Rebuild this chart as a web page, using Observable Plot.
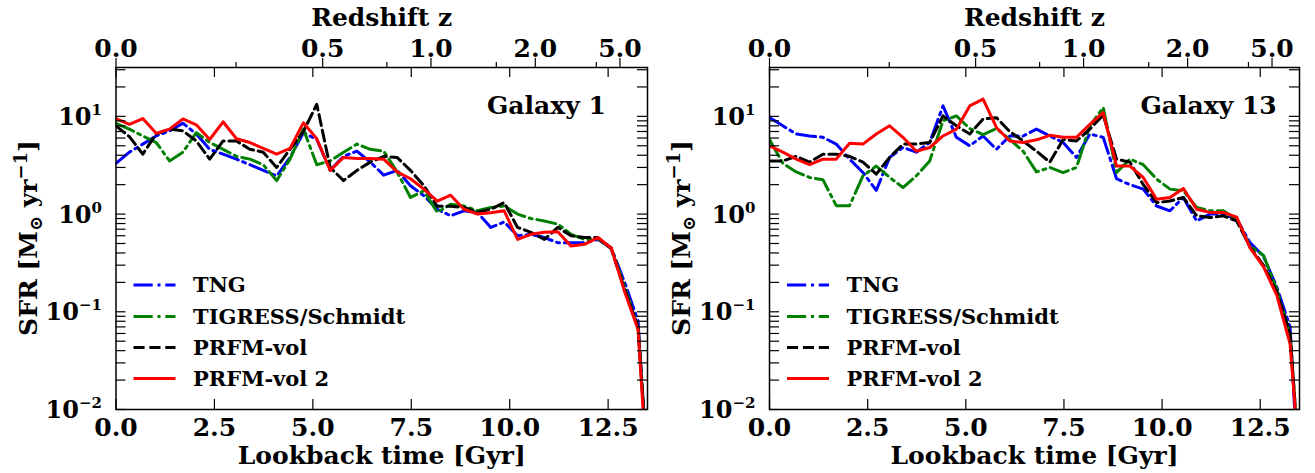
<!DOCTYPE html>
<html><head><meta charset="utf-8">
<script src="https://cdn.jsdelivr.net/npm/d3@7"></script>
<script src="https://cdn.jsdelivr.net/npm/@observablehq/plot@0.6"></script>
<style>
html,body{margin:0;padding:0;background:#fff;}
#wrap{display:flex;width:1315px;height:473px;overflow:hidden;}
</style></head><body><div id="wrap"></div>
<script>
// Lookback time of snapshots [Gyr]
const times = [0, 0.34, 0.68, 1.02, 1.36, 1.70, 2.04, 2.38, 2.72, 3.06, 3.40, 3.74, 4.08, 4.42, 4.76, 5.10, 5.44, 5.78, 6.12, 6.46, 6.80, 7.14, 7.48, 7.82, 8.16, 8.50, 8.84, 9.18, 9.52, 9.86, 10.20, 10.54, 10.88, 11.22, 11.56, 11.90, 12.24, 12.58, 12.92, 13.26, 13.45];

// Galaxy 1 SFR [Msun/yr]
const g1_tng = [3.3, 4.3, 5.2, 6.3, 7.1, 8.5, 6.6, 4.6, 4.1, 3.65, 3.2, 2.8, 2.45, 3.8, 6.8, 5.8, 2.8, 3.9, 4.4, 3.4, 2.5, 2.8, 1.95, 1.54, 1.12, 0.96, 1.08, 1.04, 0.73, 0.83, 0.6, 0.62, 0.575, 0.51, 0.51, 0.51, 0.55, 0.45, 0.2, 0.08, 0.005];
const g1_tigress = [8.5, 7.4, 6.3, 5.4, 3.5, 4.3, 6.8, 5.4, 4.6, 3.9, 3.65, 3.2, 2.2, 3.65, 7.4, 3.2, 3.5, 4.3, 5.2, 4.6, 4.4, 2.7, 1.48, 1.73, 1.04, 1.26, 1.21, 1.08, 1.17, 1.21, 1.0, 0.9, 0.85, 0.79, 0.62, 0.55, 0.56, 0.45, 0.18, 0.07, 0.005];
const g1_prfm = [8.0, 6.2, 4.1, 6.6, 7.4, 7.1, 5.6, 3.65, 5.6, 5.6, 4.6, 4.3, 3.0, 4.6, 7.0, 13.3, 3.0, 2.2, 2.8, 3.4, 3.9, 3.8, 2.8, 1.95, 1.2, 1.2, 1.17, 1.04, 1.12, 1.31, 0.73, 0.65, 0.55, 0.73, 0.6, 0.575, 0.575, 0.44, 0.17, 0.07, 0.005];
const g1_prfm2 = [9.5, 8.3, 9.5, 6.7, 7.4, 9.4, 8.2, 5.8, 8.8, 5.9, 5.4, 4.7, 4.1, 4.7, 8.6, 5.9, 2.8, 3.8, 3.7, 3.7, 3.65, 2.7, 2.3, 1.8, 1.36, 1.56, 1.12, 1.0, 1.03, 1.08, 0.55, 0.62, 0.65, 0.66, 0.47, 0.49, 0.575, 0.45, 0.16, 0.066, 0.004];

// Galaxy 13 SFR [Msun/yr]
const g13_tng = [9.7, 8.0, 6.6, 6.3, 6.1, 5.2, 3.65, 2.66, 1.75, 3.8, 4.8, 4.3, 5.4, 12.8, 6.1, 5.0, 6.3, 4.6, 6.3, 6.3, 7.4, 6.3, 5.4, 3.8, 6.6, 6.1, 2.3, 2.0, 1.8, 1.21, 1.08, 1.48, 0.85, 1.0, 1.0, 0.89, 0.51, 0.37, 0.18, 0.07, 0.003];
const g13_tigress = [5.8, 3.3, 2.7, 2.37, 2.25, 1.22, 1.22, 2.46, 3.1, 2.37, 1.87, 2.46, 3.5, 9.0, 10.1, 7.5, 6.5, 7.5, 5.8, 4.4, 2.7, 3.0, 2.66, 3.0, 8.0, 12.3, 2.66, 3.65, 3.2, 2.28, 1.8, 1.73, 1.17, 1.08, 1.08, 0.89, 0.47, 0.38, 0.17, 0.06, 0.005];
const g13_prfm = [3.5, 3.5, 3.9, 3.4, 4.1, 4.1, 3.9, 3.4, 2.56, 3.8, 5.2, 5.2, 5.4, 10.1, 8.0, 6.6, 9.4, 9.7, 7.0, 5.6, 4.4, 3.4, 5.8, 5.6, 7.4, 10.3, 3.65, 3.4, 2.0, 1.31, 1.36, 1.48, 0.96, 0.92, 0.96, 0.85, 0.46, 0.3, 0.16, 0.06, 0.005];
const g13_prfm2 = [5.0, 4.3, 3.65, 3.2, 3.65, 3.65, 5.3, 5.2, 6.6, 8.0, 6.1, 4.4, 4.8, 6.3, 7.4, 12.8, 15.0, 7.7, 5.6, 5.4, 5.75, 6.4, 6.1, 6.1, 8.3, 10.9, 3.1, 3.1, 2.37, 1.42, 1.48, 1.83, 1.12, 1.04, 1.04, 0.93, 0.45, 0.29, 0.148, 0.047, 0.005];

const seriesNames = ["TNG", "TIGRESS/Schmidt", "PRFM-vol", "PRFM-vol 2"];
const seriesColors = ["#0000ff", "#008000", "#000000", "#ff0000"];
const seriesDash = ["19.2,4.8,3,4.8", "19.2,4.8,3,4.8", "11.1,4.8", "none"];

const xTicks = [0, 2.5, 5, 7.5, 10, 12.5];
const xTickLabels = ["0.0", "2.5", "5.0", "7.5", "10.0", "12.5"];
const zTickLabels = ["0.0", "0.5", "1.0", "2.0", "5.0"];
const zTickLookback = [0, 5.25, 8.0, 10.65, 12.8];
const zMinorLookback = [3.05, 6.88, 9.66, 12.2];
const yMajor = [0.01, 0.1, 1, 10];
const yTickExponents = ["\u22122", "\u22121", "0", "1"];

const FONT = "'DejaVu Serif', serif";
const YTOP = Math.pow(10, 1.5);
const yMinor = [];
for (const d of yMajor) for (let m = 2; m <= 9; m++) { const v = d * m; if (v <= YTOP) yMinor.push(v); }
const yAll = yMajor.concat(yMinor);

function panel(name, series, width, ml, mr) {
  const H = 473, mt = 67, mb = 64;
  const pw = width - ml - mr, ph = H - mt - mb;
  const lines = series.map((vals, si) => Plot.line(
    times.map((t, i) => ({t, v: vals[i]})),
    {x: "t", y: "v", stroke: seriesColors[si], strokeWidth: 3,
     strokeDasharray: seriesDash[si], strokeLinejoin: "round", clip: true}));
  const xt = xTicks.map((x, i) => ({x, label: xTickLabels[i]}));
  const zt = zTickLookback.map((x, i) => ({x, label: zTickLabels[i]}));
  const yt = yMajor.map((y, i) => ({y, label: "10" + "^" + yTickExponents[i]}));
  const svg = Plot.plot({
    width, height: H, marginTop: mt, marginBottom: mb, marginLeft: ml, marginRight: mr,
    style: {fontFamily: FONT, fontWeight: "bold", fontSize: "25px", background: "white", color: "black"},
    x: {domain: [0, 13.5], axis: null},
    y: {type: "log", domain: [0.01, YTOP], axis: null},
    marks: [
      ...lines,
      Plot.tickY(yAll, {y: d => d, insetRight: pw - 10, strokeWidth: 1.2}),
      Plot.tickY(yAll, {y: d => d, insetLeft: pw - 10, strokeWidth: 1.2}),
      Plot.tickX(xTicks, {x: d => d, insetTop: ph - 10, strokeWidth: 1.2}),
      Plot.tickX(xTicks, {x: d => d, insetBottom: ph - 10, strokeWidth: 1.2}),
      Plot.tickX(zTickLookback, {x: d => d, insetTop: -9, insetBottom: ph, strokeWidth: 1.2}),
      Plot.tickX(zMinorLookback, {x: d => d, insetTop: -5, insetBottom: ph, strokeWidth: 1.2}),
      Plot.frame({stroke: "black", strokeWidth: 1.5}),
      Plot.text(xt, {x: "x", text: "label", frameAnchor: "bottom", lineAnchor: "bottom", dy: 26, fontSize: 25, fontWeight: "bold"}),
      Plot.text(zt, {x: "x", text: "label", frameAnchor: "top", lineAnchor: "bottom", dy: -11, fontSize: 25, fontWeight: "bold"}),
      Plot.text(["Redshift z"], {text: d => d, frameAnchor: "top", lineAnchor: "bottom", dy: -42, fontSize: 25, fontWeight: "bold"}),
      Plot.text(["Lookback time [Gyr]"], {text: d => d, frameAnchor: "bottom", lineAnchor: "bottom", dy: 54, fontSize: 25, fontWeight: "bold"}),
      Plot.text([name], {text: d => d, frameAnchor: "top-left", textAnchor: "start", lineAnchor: "bottom", dx: 371, dy: 46, fontSize: 25, fontWeight: "bold"}),
      Plot.text(yt, {y: "y", text: "label", frameAnchor: "left", textAnchor: "end", dx: -14, dy: 1, fontSize: 24, fontWeight: "bold"})
    ]
  });
  const s = d3.select(svg);
  // superscript exponents on y tick labels ("10^e" -> 10 with raised e)
  s.selectAll("text").each(function () {
    const txt = this.textContent;
    if (!/^10\^/.test(txt)) return;
    const e = txt.slice(3);
    const t = d3.select(this);
    t.text(null);
    t.append("tspan").text("10");
    t.append("tspan").attr("dy", -10).attr("font-size", 15).text(e);
  });
  // y axis label
  const yl = s.append("text")
    .attr("transform", `translate(${ml - 79},${mt + ph / 2}) rotate(-90)`)
    .attr("text-anchor", "middle").attr("font-family", FONT).attr("font-weight", "bold").attr("font-size", 25);
  yl.append("tspan").text("SFR [M");
  yl.append("tspan").attr("dy", 5).attr("font-size", 18).text("\u2299");
  yl.append("tspan").attr("dy", -5).text(" yr");
  yl.append("tspan").attr("dy", -10).attr("font-size", 18).text("\u22121");
  yl.append("tspan").attr("dy", 10).text("]");
  // legend
  const rows = [285, 316.5, 347.5, 378.5];
  seriesNames.forEach((nm, i) => {
    s.append("line").attr("x1", ml + 18).attr("x2", ml + 60).attr("y1", rows[i]).attr("y2", rows[i])
      .attr("stroke", seriesColors[i]).attr("stroke-width", 3).attr("stroke-dasharray", seriesDash[i]);
    s.append("text").attr("x", ml + 77.5).attr("y", rows[i]).attr("dy", "0.35em")
      .attr("text-anchor", "start")
      .attr("font-family", FONT).attr("font-weight", "bold").attr("font-size", 21).text(nm);
  });
  return svg;
}

const wrap = document.getElementById("wrap");
wrap.appendChild(panel("Galaxy 1", [g1_tng, g1_tigress, g1_prfm, g1_prfm2], 657, 115.5, 10));
wrap.appendChild(panel("Galaxy 13", [g13_tng, g13_tigress, g13_prfm, g13_prfm2], 658, 112, 16));
</script></body></html>
